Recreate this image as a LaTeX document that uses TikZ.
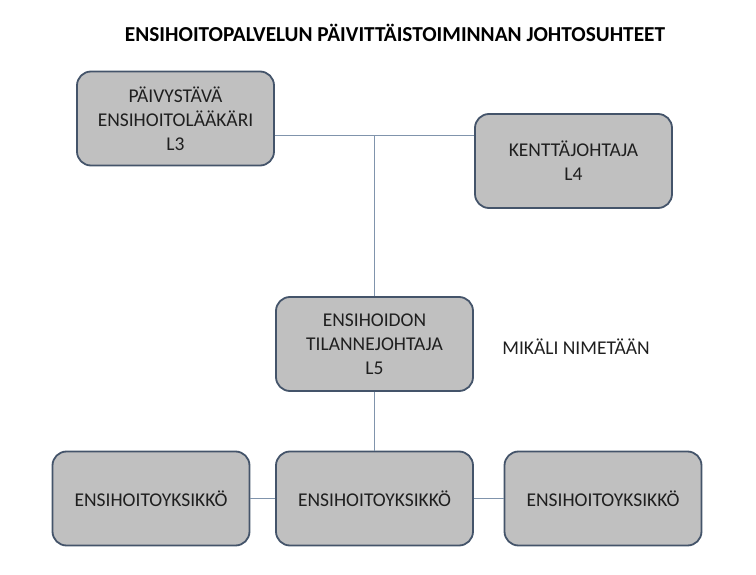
\documentclass[tikz,border=0pt]{standalone}
\usepackage{fontspec}
\setmainfont{Carlito}
\usetikzlibrary{calc}
\definecolor{boxfill}{RGB}{192,192,192}
\definecolor{boxline}{RGB}{68,84,106}
\definecolor{linkline}{RGB}{128,148,172}

\begin{document}
\begin{tikzpicture}[x=1pt,y=-1pt,
  unit/.style={draw=boxline,line width=1.8pt,fill=boxfill,rounded corners=14pt,
    minimum width=197pt,minimum height=94pt,align=center,text=black!88,
    font=\fontsize{19.5}{24}\selectfont},
  link/.style={draw=linkline,line width=1pt}]
\useasboundingbox (0,0) rectangle (756,575);
\node[font=\fontsize{21.3}{24}\selectfont\bfseries] (title) at (395,33) {ENSIHOITOPALVELUN PÄIVITTÄISTOIMINNAN JOHTOSUHTEET};
\node[unit] (L3) at (175.5,118.5) {PÄIVYSTÄVÄ\\ENSIHOITOLÄÄKÄRI\\L3};
\node[unit] (L4) at (573.5,161) {KENTTÄJOHTAJA\\L4};
\node[unit] (L5) at (374.5,344) {ENSIHOIDON\\TILANNEJOHTAJA\\L5};
\node[unit] (Y1) at (151,498.5) {ENSIHOITOYKSIKKÖ};
\node[unit] (Y2) at (374.5,498.5) {ENSIHOITOYKSIKKÖ};
\node[unit] (Y3) at (603,498.5) {ENSIHOITOYKSIKKÖ};
\node[font=\fontsize{19.5}{24}\selectfont,text=black!88] (note) at (576,347) {MIKÄLI NIMETÄÄN};
\coordinate (J) at (374.5,136);
\draw[link] (J -| L3.east) -- (J -| L4.west);
\draw[link] (J) -- (L5.north);
\draw[link] (L5) -- (Y2);
\draw[link] (Y1) -- (Y2);
\draw[link] (Y2) -- (Y3);
\end{tikzpicture}
\end{document}
